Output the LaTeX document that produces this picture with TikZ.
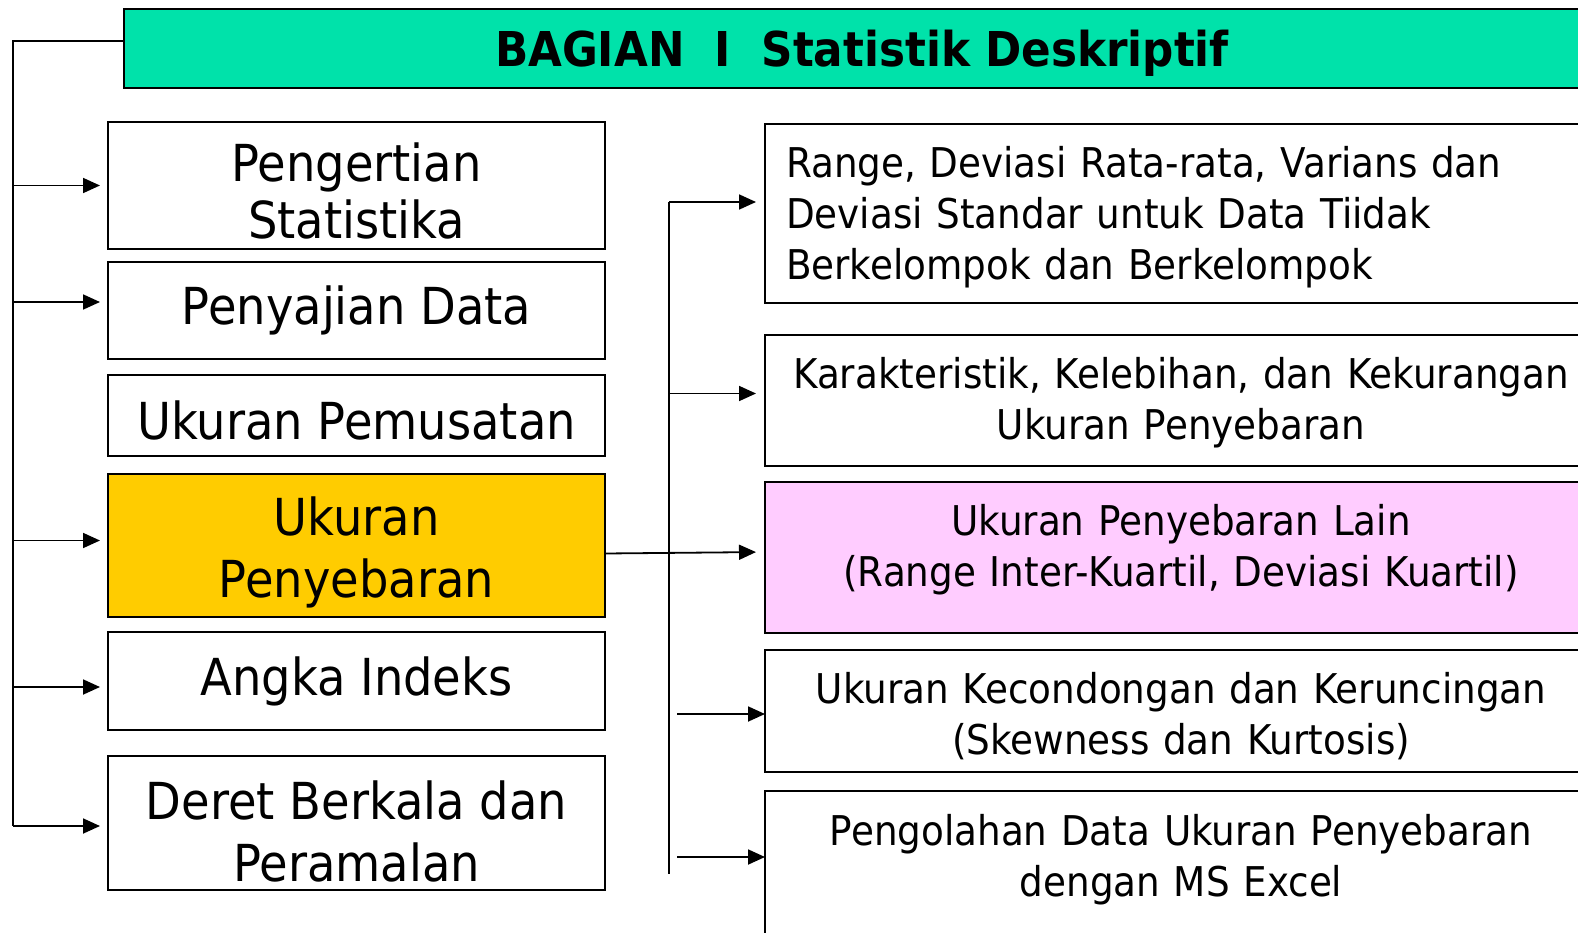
\documentclass[tikz,border=0pt]{standalone}
\usepackage{fontspec}
\setmainfont{DejaVu Sans}[FakeStretch=0.91]
\usepackage{tikz}
\usetikzlibrary{positioning, arrows.meta}
\definecolor{titlegreen}{RGB}{0,226,170}
\definecolor{spreadyellow}{RGB}{255,204,0}
\definecolor{otherpink}{RGB}{255,204,255}
\newcommand{\padtop}[1]{\rule{0pt}{#1}}
\newcommand{\padbot}[1]{\rule[-#1]{0pt}{0pt}}

\begin{document}
\begin{tikzpicture}[
  x=1pt, y=-1pt,
  titlebox/.style={draw, line width=2pt, fill=titlegreen, anchor=north west,
              minimum width=1476pt, minimum height=79pt, outer sep=0pt,
              text depth=0pt, font=\bfseries\fontsize{48}{58}\selectfont},
  leftbox/.style={draw, line width=2pt, fill=white, minimum width=497pt,
              align=center, inner sep=0pt, outer sep=0pt,
              font=\fontsize{51}{62}\selectfont},
  rightbox/.style={draw, line width=2pt, fill=white, minimum width=832pt,
              text width=790pt, inner xsep=21pt, align=center, outer sep=0pt,
              font=\fontsize{41}{51}\selectfont},
  link/.style={line width=1.8pt},
  >={Triangle[length=17pt,width=15pt]}
]
  \useasboundingbox (0,0) rectangle (1578,933);
  \clip (0,0) rectangle (1578,933);
  \fill[white] (0,0) rectangle (1578,933);

  % Header
  \node[titlebox] (title) at (124,9) {BAGIAN\ \ I\ \ Statistik Deskriptif};

  % Left column: topics
  \node[leftbox, anchor=north west, minimum height=127pt,
        font=\fontsize{51}{57}\selectfont] (b1) at (108,122)
    {\padtop{49pt}Pengertian\\Statistika};
  \node[leftbox, below=13pt of b1, minimum height=97pt] (b2) {Penyajian Data};
  \node[leftbox, below=16pt of b2, minimum height=81pt] (b3)
    {\padtop{49pt}Ukuran Pemusatan};
  \node[leftbox, below=18pt of b3, minimum height=143pt, fill=spreadyellow] (b4)
    {\padtop{53pt}Ukuran\\Penyebaran};
  \node[leftbox, below=15pt of b4, minimum height=98pt] (b5) {Angka Indeks};
  \node[leftbox, below=26pt of b5, minimum height=134pt] (b6)
    {\padtop{55pt}Deret Berkala dan\\Peramalan};

  % Right column: subtopics of Ukuran Penyebaran
  \node[rightbox, anchor=north west, minimum height=179pt, align=left] (r1) at (765,124)
    {\padtop{39pt}Range, Deviasi Rata-rata, Varians dan\\Deviasi Standar untuk Data Tiidak\\Berkelompok dan Berkelompok};
  \node[rightbox, below=32pt of r1, minimum height=131pt] (r2)
    {\padtop{35pt}Karakteristik, Kelebihan, dan Kekurangan\\Ukuran Penyebaran};
  \node[rightbox, below=16pt of r2, minimum height=151pt, fill=otherpink] (r3)
    {Ukuran Penyebaran Lain\\(Range Inter-Kuartil, Deviasi Kuartil)\padbot{24pt}};
  \node[rightbox, below=17pt of r3, minimum height=122pt] (r4)
    {\padtop{41pt}Ukuran Kecondongan dan Keruncingan\\(Skewness dan Kurtosis)};
  \node[rightbox, below=19pt of r4, minimum height=182pt] (r5)
    {\padtop{45pt}Pengolahan Data Ukuran Penyebaran\\dengan MS Excel\\\strut};

  % Left bus
  \coordinate (lbus) at (13,41);
  \draw[link] (title.west |- lbus) -- (lbus) -- ([yshift=-3pt]lbus |- b6);
  \draw[link, ->, shorten >=8pt] (lbus |- b1) -- (b1.west);
  \draw[link, ->, shorten >=8pt] ([yshift=8.5pt]lbus |- b2) -- ([yshift=8.5pt]b2.west);
  \draw[link, ->, shorten >=8pt] ([yshift=5pt]lbus |- b4) -- ([yshift=5pt]b4.west);
  \draw[link, ->, shorten >=8pt] ([yshift=-6pt]lbus |- b5) -- ([yshift=-6pt]b5.west);
  \draw[link, ->, shorten >=8pt] ([yshift=-3pt]lbus |- b6) -- ([yshift=-3pt]b6.west);

  % Right bus
  \coordinate (rbus) at (669,202);
  \coordinate (rbus end) at (669,874);
  \draw[link] (rbus) -- (rbus end);
  \draw[link, ->, shorten >=9pt] (rbus) -- (rbus -| r1.west);
  \draw[link, ->, shorten >=9pt] ([yshift=7pt]rbus |- r2) -- ([yshift=7pt]r2.west);
  \draw[link, ->, shorten >=9pt] ([yshift=-8pt]b4.east) -- ([yshift=5.5pt]r3.west);
  \draw[link, ->] ([xshift=-88pt,yshift=-3pt]r4.west) -- ([yshift=-3pt]r4.west);
  \draw[link, ->] ([xshift=-88pt,yshift=25pt]r5.west) -- ([yshift=25pt]r5.west);
\end{tikzpicture}
\end{document}
